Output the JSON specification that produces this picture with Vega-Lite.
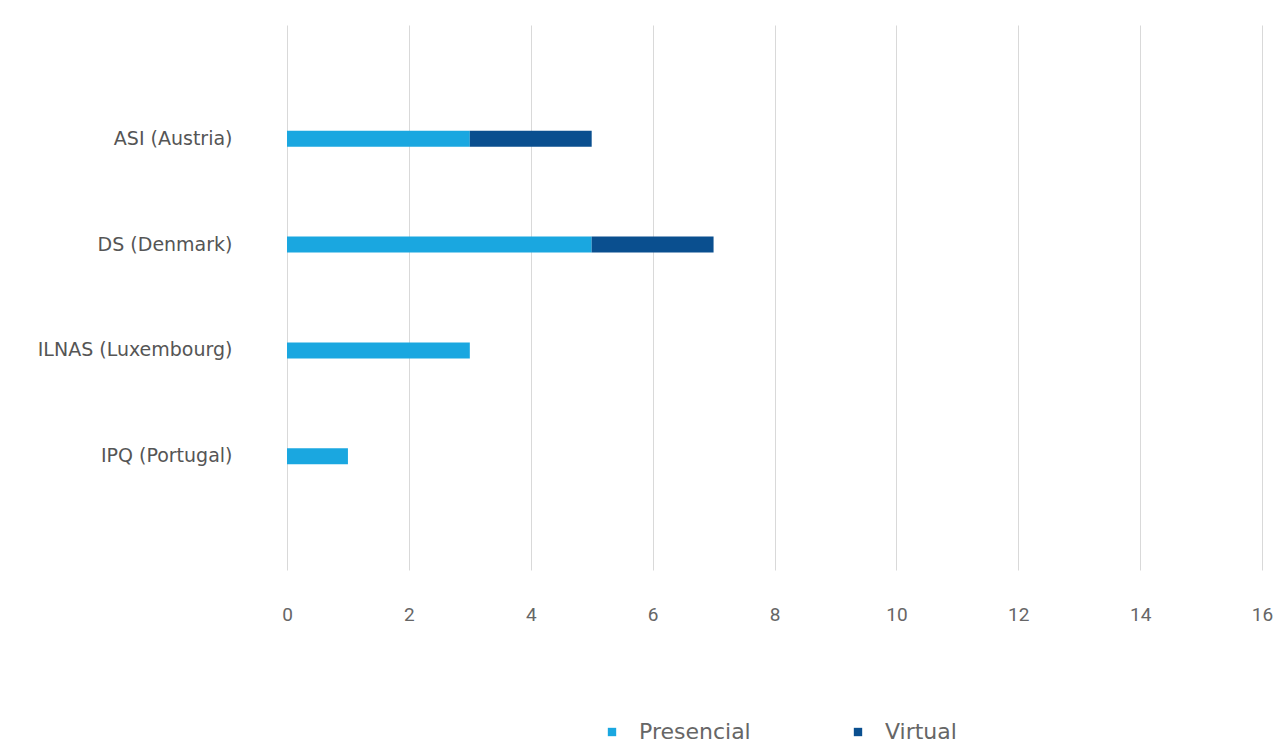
{
  "$schema": "https://vega.github.io/schema/vega-lite/v6.json",
  "autosize": {"type": "none"},
  "width": 975,
  "height": 545,
  "padding": {"left": 287, "top": 25, "right": 14, "bottom": 175},
  "background": "white",
  "config": {
    "font": "Roboto",
    "view": {"stroke": null}
  },
  "data": {
    "values": [
      {"entidad": "ASI (Austria)", "modalidad": "Presencial", "n": 3, "orden": 1},
      {"entidad": "ASI (Austria)", "modalidad": "Virtual", "n": 2, "orden": 2},
      {"entidad": "DS (Denmark)", "modalidad": "Presencial", "n": 5, "orden": 1},
      {"entidad": "DS (Denmark)", "modalidad": "Virtual", "n": 2, "orden": 2},
      {"entidad": "ILNAS (Luxembourg)", "modalidad": "Presencial", "n": 3, "orden": 1},
      {"entidad": "ILNAS (Luxembourg)", "modalidad": "Virtual", "n": 0, "orden": 2},
      {"entidad": "IPQ (Portugal)", "modalidad": "Presencial", "n": 1, "orden": 1},
      {"entidad": "IPQ (Portugal)", "modalidad": "Virtual", "n": 0, "orden": 2}
    ]
  },
  "mark": {"type": "bar", "size": 16},
  "encoding": {
    "y": {
      "field": "entidad",
      "type": "nominal",
      "sort": ["ASI (Austria)", "DS (Denmark)", "ILNAS (Luxembourg)", "IPQ (Portugal)"],
      "scale": {"paddingInner": 0.85, "paddingOuter": 1.0},
      "axis": {
        "title": null,
        "domain": false,
        "ticks": false,
        "labelPadding": 55,
        "labelFontSize": 19,
        "labelLimit": 400,
        "labelColor": "#555555",
        "labelFont": "DejaVu Sans"
      }
    },
    "x": {
      "field": "n",
      "type": "quantitative",
      "stack": "zero",
      "scale": {"domain": [0, 16], "nice": false},
      "axis": {
        "title": null,
        "values": [0, 2, 4, 6, 8, 10, 12, 14, 16],
        "domain": false,
        "ticks": false,
        "grid": true,
        "gridColor": "#d9d9d9",
        "gridWidth": 1,
        "labelPadding": 35,
        "labelFontSize": 19,
        "labelColor": "#666666",
        "labelFlush": false
      }
    },
    "color": {
      "field": "modalidad",
      "type": "nominal",
      "scale": {"domain": ["Presencial", "Virtual"], "range": ["#1aa7e0", "#0a4f8f"]},
      "legend": {
        "title": null,
        "orient": "none",
        "direction": "horizontal",
        "legendX": 314,
        "legendY": 696,
        "symbolType": "square",
        "symbolSize": 70,
        "labelFontSize": 22,
        "labelFont": "DejaVu Sans",
        "labelColor": "#666666",
        "labelOffset": 16,
        "columnPadding": 96
      }
    },
    "order": {"field": "orden", "type": "quantitative"}
  }
}
